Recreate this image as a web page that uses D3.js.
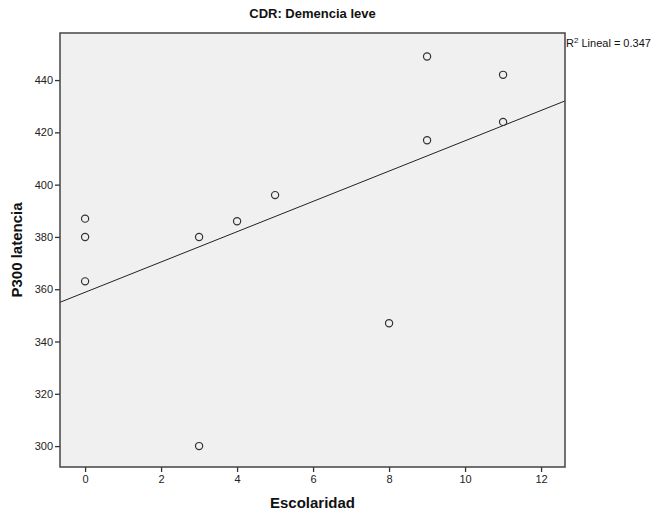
<!DOCTYPE html>
<html>
<head>
<meta charset="utf-8">
<script src="https://cdn.jsdelivr.net/npm/d3@7"></script>
<style>
  body { margin: 0; background: #fff; }
  svg text { font-family: "Liberation Sans", Arial, sans-serif; }
</style>
</head>
<body>
<div id="chart"></div>
<script>
// data
var escolaridad = [0, 0, 0, 3, 3, 4, 5, 8, 9, 9, 11, 11];
var latencia = [387, 380, 363, 380, 300, 386, 396, 347, 449, 417, 442, 424];
var xTicks = [0, 2, 4, 6, 8, 10, 12];
var yTicks = [300, 320, 340, 360, 380, 400, 420, 440];

var svgWidth = 655, svgHeight = 514;
var margin = { top: 33, right: 90, bottom: 47, left: 60 };
var chartWidth = svgWidth - margin.left - margin.right;
var chartHeight = svgHeight - margin.top - margin.bottom;

var svg = d3.select("#chart").append("svg")
  .attr("width", svgWidth)
  .attr("height", svgHeight);

var chartGroup = svg.append("g")
  .attr("transform", `translate(${margin.left}, ${margin.top})`);

var xScale = d3.scaleLinear().domain([-0.66, 12.63]).range([0, chartWidth]);
var yScale = d3.scaleLinear().domain([292, 458]).range([chartHeight, 0]);

// plot background
chartGroup.append("rect")
  .attr("width", chartWidth)
  .attr("height", chartHeight)
  .attr("fill", "#f0f0f0");

// axes
var bottomAxis = d3.axisBottom(xScale).tickValues(xTicks).tickSize(5).tickPadding(3);
var leftAxis = d3.axisLeft(yScale).tickValues(yTicks).tickSize(5).tickPadding(2);

var gx = chartGroup.append("g")
  .attr("transform", `translate(0, ${chartHeight})`)
  .call(bottomAxis);
var gy = chartGroup.append("g").call(leftAxis);

[gx, gy].forEach(g => {
  g.select(".domain").remove();
  g.selectAll("line").attr("stroke", "#333").attr("stroke-width", 1.3);
  g.selectAll("text")
    .style("font-family", "'Liberation Sans Narrow', 'Liberation Sans', Arial, sans-serif")
    .style("font-size", "11px")
    .attr("fill", "#222");
});

// regression line (least squares)
var mx = d3.mean(escolaridad), my = d3.mean(latencia);
var sxy = d3.sum(escolaridad, (x, i) => (x - mx) * (latencia[i] - my));
var sxx = d3.sum(escolaridad, x => (x - mx) * (x - mx));
var syy = d3.sum(latencia, y => (y - my) * (y - my));
var slope = sxy / sxx;
var intercept = my - slope * mx;
var r2 = (sxy * sxy) / (sxx * syy);

var xd = xScale.domain();
chartGroup.append("line")
  .attr("x1", xScale(xd[0]))
  .attr("y1", yScale(intercept + slope * xd[0]))
  .attr("x2", xScale(xd[1]))
  .attr("y2", yScale(intercept + slope * xd[1]))
  .attr("stroke", "#222")
  .attr("stroke-width", 1);

// points
chartGroup.selectAll("circle")
  .data(escolaridad)
  .enter()
  .append("circle")
  .attr("cx", (d, i) => xScale(d))
  .attr("cy", (d, i) => yScale(latencia[i]))
  .attr("r", 3.6)
  .attr("fill", "none")
  .attr("stroke", "#333")
  .attr("stroke-width", 1.2);

// frame
chartGroup.append("rect")
  .attr("width", chartWidth)
  .attr("height", chartHeight)
  .attr("fill", "none")
  .attr("stroke", "#444")
  .attr("stroke-width", 1.5);

// R2 label
var r2Label = svg.append("text")
  .attr("x", margin.left + chartWidth + 1)
  .attr("y", 47)
  .style("font-family", "'Liberation Sans Narrow', 'Liberation Sans', Arial, sans-serif")
  .style("font-size", "11px")
  .attr("fill", "#111");
r2Label.append("tspan").text("R");
r2Label.append("tspan").attr("dy", -4).style("font-size", "8px").text("2");
r2Label.append("tspan").attr("dy", 4).text(" Lineal = " + r2.toFixed(3));

// title
svg.append("text")
  .attr("x", margin.left + chartWidth / 2)
  .attr("y", 18)
  .attr("text-anchor", "middle")
  .style("font-family", "'Liberation Sans Narrow', 'Liberation Sans', Arial, sans-serif")
  .style("font-size", "13px")
  .style("font-weight", "bold")
  .attr("fill", "#111")
  .text("CDR: Demencia leve");

// axis titles
svg.append("text")
  .attr("x", margin.left + chartWidth / 2)
  .attr("y", 508)
  .attr("text-anchor", "middle")
  .style("font-size", "15px")
  .style("font-weight", "bold")
  .attr("fill", "#111")
  .text("Escolaridad");

svg.append("text")
  .attr("transform", `translate(22, ${margin.top + chartHeight / 2}) rotate(-90)`)
  .attr("text-anchor", "middle")
  .style("font-size", "15px")
  .style("font-weight", "bold")
  .attr("fill", "#111")
  .text("P300 latencia");
</script>
</body>
</html>
